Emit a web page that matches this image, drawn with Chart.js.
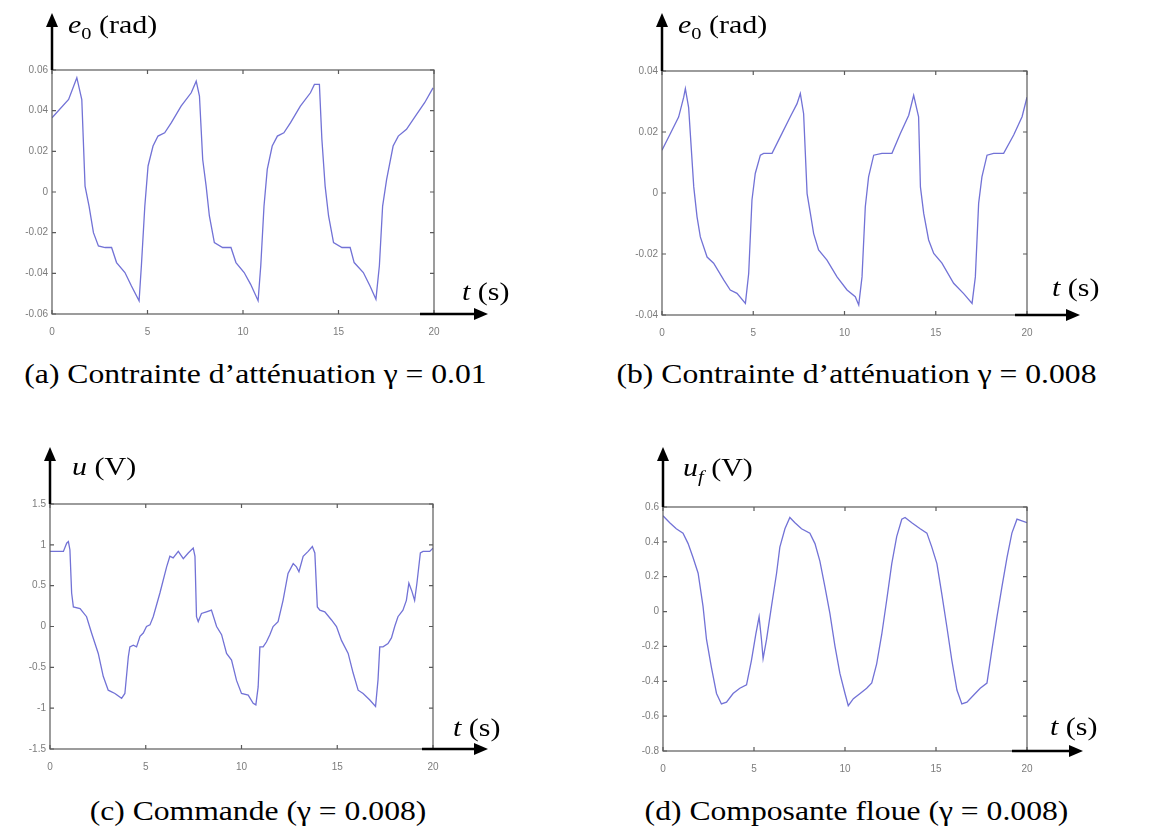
<!DOCTYPE html>
<html>
<head>
<meta charset="utf-8">
<script src="https://cdn.jsdelivr.net/npm/chart.js@4/dist/chart.umd.min.js"></script>
<style>
  body { margin: 0; background: #fff; }
  #page { position: relative; width: 1171px; height: 830px; overflow: hidden; }
  .panel { position: absolute; }
  .caption {
    position: absolute; text-align: center; white-space: nowrap;
    font-family: "Liberation Serif", "Times New Roman", serif;
    font-size: 28px; line-height: 28px; color: #000;
    transform: scaleX(1.13); transform-origin: center;
  }
</style>
</head>
<body>
<div id="page">
  <div class="panel" style="left:0;top:0;width:585px;height:345px"><canvas id="chartA"></canvas></div>
  <div class="panel" style="left:585px;top:0;width:586px;height:345px"><canvas id="chartB"></canvas></div>
  <div class="panel" style="left:0;top:420px;width:585px;height:360px"><canvas id="chartC"></canvas></div>
  <div class="panel" style="left:585px;top:420px;width:586px;height:360px"><canvas id="chartD"></canvas></div>

  <div class="caption" style="left:13px;width:485px;top:360px">(a) Contrainte d’atténuation γ = 0.01</div>
  <div class="caption" style="left:614px;width:485px;top:360px">(b) Contrainte d’atténuation γ = 0.008</div>
  <div class="caption" style="left:8px;width:500px;top:797px">(c) Commande (γ = 0.008)</div>
  <div class="caption" style="left:614px;width:485px;top:797px">(d) Composante floue (γ = 0.008)</div>
</div>
<script>
// temps commun (s)
const xTicks = [0, 5, 10, 15, 20];

// (a) e0, gamma = 0.01
const tA = [0,0.87,1.3,1.56,1.73,1.94,2.17,2.43,2.78,3.12,3.38,3.82,4.16,4.56,4.68,4.86,5.03,5.29,5.55,5.9,
  6.25,6.76,7.29,7.55,7.72,7.89,8.07,8.24,8.5,8.93,9.37,9.63,10.06,10.4,10.79,10.93,11.1,11.27,11.53,11.8,
  12.14,12.49,13.0,13.53,13.74,14.0,14.13,14.3,14.48,14.74,15.18,15.61,15.82,16.3,16.65,16.96,17.14,17.31,17.52,17.86,
  18.13,18.56,19.08,19.51,19.95];
const eA = [0.0365,0.0455,0.0562,0.0455,0.0029,-0.0069,-0.020,-0.0265,-0.0273,-0.0273,-0.0347,-0.0396,-0.0462,-0.0535,-0.0363,
  -0.0069,0.0128,0.0226,0.0275,0.0291,0.0341,0.0422,0.0488,0.0545,0.0472,0.016,0.0029,-0.0118,-0.0249,-0.0273,
  -0.0273,-0.0347,-0.0396,-0.0454,-0.0535,-0.0363,-0.0069,0.0111,0.0226,0.0275,0.0291,0.0341,0.0422,0.0488,0.0529,
  0.0529,0.0259,0.0029,-0.0118,-0.0249,-0.0273,-0.0273,-0.0347,-0.0396,-0.0462,-0.0527,-0.0363,-0.0069,0.0062,0.0226,
  0.0275,0.0308,0.0381,0.0439,0.0512];
const yTicksA = [-0.06, -0.04, -0.02, 0, 0.02, 0.04, 0.06];

// (b) e0, gamma = 0.008
const tB = [0,0.46,0.91,1.19,1.28,1.46,1.74,1.92,2.1,2.47,2.83,3.38,3.74,4.11,4.57,4.75,4.93,5.11,5.39,5.57,
  6.03,6.48,7.03,7.4,7.58,7.76,7.95,8.13,8.31,8.58,9.04,9.59,10.14,10.59,10.78,10.96,11.14,11.32,11.6,12.05,
  12.6,13.06,13.52,13.79,14.06,14.16,14.34,14.61,14.89,15.34,15.98,16.53,16.99,17.17,17.35,17.53,17.81,18.17,18.72,19.27,
  19.73,20];
const eB = [0.014,0.0195,0.0249,0.0314,0.0342,0.028,0.002,-0.0078,-0.0144,-0.021,-0.023,-0.0285,-0.0318,-0.0329,-0.0362,
  -0.0264,-0.0023,0.0064,0.0124,0.013,0.013,0.0184,0.025,0.0293,0.0326,0.026,-0.0002,-0.0067,-0.0133,-0.0187,
  -0.022,-0.0275,-0.0318,-0.034,-0.0367,-0.0275,-0.0045,0.0053,0.0124,0.013,0.013,0.0195,0.0255,0.032,0.025,
  0.002,-0.0067,-0.0154,-0.0198,-0.023,-0.0296,-0.033,-0.0362,-0.0275,-0.0034,0.0053,0.0124,0.013,0.013,0.019,
  0.025,0.0314];
const yTicksB = [-0.04, -0.02, 0, 0.02, 0.04];

// (c) commande u
const tC = [0,0.7,0.87,0.96,1.04,1.13,1.22,1.57,1.91,2.17,2.52,2.78,3.04,3.39,3.74,3.91,4.09,4.17,4.35,4.52,
  4.7,4.87,5.04,5.22,5.39,5.74,6.09,6.26,6.43,6.7,6.96,7.22,7.48,7.57,7.65,7.74,7.91,8.17,8.43,8.7,
  8.96,9.22,9.48,9.74,10.0,10.35,10.61,10.75,10.87,10.96,11.13,11.3,11.48,11.65,11.91,12.17,12.43,12.7,12.87,13.0,
  13.22,13.48,13.7,13.83,13.96,14.09,14.35,14.7,14.96,15.22,15.57,15.83,16.09,16.35,16.7,17.0,17.13,17.22,17.39,17.65,
  17.83,18.0,18.17,18.43,18.61,18.74,18.9,19.04,19.16,19.34,19.48,19.83,20];
const uC = [0.92,0.92,1.02,1.04,0.94,0.41,0.24,0.22,0.12,-0.08,-0.33,-0.61,-0.78,-0.82,-0.88,-0.82,-0.37,-0.25,-0.23,-0.25,
  -0.12,-0.08,0.0,0.02,0.12,0.41,0.73,0.86,0.84,0.92,0.83,0.9,0.96,0.86,0.12,0.06,0.16,0.18,0.2,0.0,
  -0.1,-0.33,-0.41,-0.66,-0.82,-0.84,-0.94,-0.96,-0.74,-0.25,-0.25,-0.19,-0.1,0.0,0.06,0.32,0.65,0.77,0.73,0.67,
  0.86,0.92,0.98,0.9,0.24,0.2,0.18,0.08,0.0,-0.17,-0.33,-0.57,-0.78,-0.82,-0.9,-0.98,-0.65,-0.25,-0.25,-0.21,
  -0.14,0.0,0.12,0.2,0.32,0.53,0.43,0.32,0.53,0.9,0.92,0.92,0.96];
const yTicksC = [-1.5, -1, -0.5, 0, 0.5, 1, 1.5];

// (d) composante floue uf
const tD = [0,0.37,0.73,1.1,1.38,1.65,1.93,2.2,2.39,2.66,2.94,3.21,3.49,3.85,4.22,4.59,4.86,5.1,5.28,5.41,
  5.5,5.69,5.96,6.24,6.42,6.7,6.97,7.25,7.61,8.07,8.35,8.62,8.9,9.17,9.45,9.72,10.0,10.18,10.46,10.83,
  11.19,11.47,11.74,12.02,12.29,12.57,12.84,13.12,13.3,13.67,14.13,14.5,14.77,15.05,15.32,15.6,15.87,16.15,16.42,16.7,
  17.06,17.43,17.8,18.07,18.35,18.62,18.9,19.17,19.45,19.72,20];
const uD = [0.55,0.51,0.475,0.45,0.39,0.31,0.22,0.03,-0.16,-0.32,-0.47,-0.53,-0.52,-0.47,-0.44,-0.42,-0.28,-0.13,-0.03,-0.16,
  -0.27,-0.16,0.03,0.22,0.37,0.475,0.54,0.51,0.475,0.45,0.39,0.29,0.14,-0.01,-0.2,-0.355,-0.47,-0.54,-0.5,-0.47,
  -0.44,-0.41,-0.3,-0.13,0.065,0.275,0.43,0.53,0.54,0.51,0.475,0.45,0.37,0.275,0.1,-0.09,-0.28,-0.45,-0.53,-0.52,
  -0.48,-0.44,-0.41,-0.22,-0.03,0.14,0.31,0.45,0.53,0.52,0.51];
const yTicksD = [-0.8, -0.6, -0.4, -0.2, 0, 0.2, 0.4, 0.6];

const SERIF = '"Liberation Serif", "Times New Roman", serif';
const STRETCH = 1.2; // le texte de la figure d'origine est un peu etire

// texte avec indice / italique
function drawRich(ctx, x, y, parts) {
  ctx.save();
  ctx.translate(x, y);
  ctx.scale(STRETCH, 1);
  let cx = 0;
  parts.forEach((p) => {
    ctx.font = p.font;
    ctx.fillText(p.t, cx, p.dy || 0);
    cx += ctx.measureText(p.t).width;
  });
  ctx.restore();
}

// cadre style matlab + fleches + libelles
function decor(d) {
  return {
    id: "decor",
    afterDatasetsDraw(chart) {
      const ctx = chart.ctx;
      const a = chart.chartArea;
      const sx = chart.scales.x, sy = chart.scales.y;
      ctx.save();
      ctx.strokeStyle = "#5a5a5a";
      ctx.lineWidth = 1.2;
      ctx.strokeRect(a.left, a.top, a.right - a.left, a.bottom - a.top);
      ctx.beginPath();
      sx.ticks.forEach((t) => {
        const px = sx.getPixelForValue(t.value);
        ctx.moveTo(px, a.bottom); ctx.lineTo(px, a.bottom - 4);
        ctx.moveTo(px, a.top); ctx.lineTo(px, a.top + 4);
      });
      sy.ticks.forEach((t) => {
        const py = sy.getPixelForValue(t.value);
        ctx.moveTo(a.left, py); ctx.lineTo(a.left + 4, py);
        ctx.moveTo(a.right, py); ctx.lineTo(a.right - 4, py);
      });
      ctx.stroke();

      // fleches
      ctx.strokeStyle = "#000";
      ctx.fillStyle = "#000";
      ctx.lineWidth = 2.5;
      const tipY = a.top - d.up;
      ctx.beginPath();
      ctx.moveTo(a.left, a.top);
      ctx.lineTo(a.left, tipY + 12);
      ctx.stroke();
      ctx.beginPath();
      ctx.moveTo(a.left, tipY);
      ctx.lineTo(a.left - 6, tipY + 14);
      ctx.lineTo(a.left + 6, tipY + 14);
      ctx.closePath();
      ctx.fill();

      const x0 = a.right - d.back, x1 = a.right + d.fwd;
      ctx.beginPath();
      ctx.moveTo(x0, a.bottom);
      ctx.lineTo(x1 - 12, a.bottom);
      ctx.stroke();
      ctx.beginPath();
      ctx.moveTo(x1, a.bottom);
      ctx.lineTo(x1 - 14, a.bottom - 6);
      ctx.lineTo(x1 - 14, a.bottom + 6);
      ctx.closePath();
      ctx.fill();

      // libelles des axes
      ctx.textBaseline = "alphabetic";
      ctx.textAlign = "left";
      drawRich(ctx, a.left + d.lx, a.top - d.ly, d.label);
      drawRich(ctx, a.right + d.tx, a.bottom - d.ty, [
        { t: "t", font: "italic 25px " + SERIF },
        { t: " (s)", font: "25px " + SERIF },
      ]);
      ctx.restore();
    },
  };
}

function makeChart(id, xs, ys, yTicks, g, d) {
  const ctx = document.getElementById(id).getContext("2d");
  return new Chart(ctx, {
    type: "line",
    data: {
      datasets: [
        {
          data: xs.map((x, i) => ({ x: x, y: ys[i] })),
          borderColor: "#7272d6",
          borderWidth: 1.3,
          pointRadius: 0,
          tension: 0,
          fill: false,
        },
      ],
    },
    options: {
      responsive: true,
      maintainAspectRatio: false,
      animation: false,
      events: [],
      layout: { autoPadding: false, padding: { left: 0, top: g.top, right: g.right, bottom: 0 } },
      plugins: { legend: { display: false }, tooltip: { enabled: false } },
      scales: {
        x: {
          type: "linear",
          min: 0,
          max: 20,
          afterBuildTicks: (s) => { s.ticks = xTicks.map((v) => ({ value: v })); },
          afterFit: (s) => { s.height = g.xh; },
          grid: { display: false, drawTicks: false },
          border: { display: false },
          ticks: {
            padding: 12,
            color: "#7c7c7c",
            font: { family: "Liberation Sans", size: 10 },
            maxRotation: 0,
          },
        },
        y: {
          type: "linear",
          min: yTicks[0],
          max: yTicks[yTicks.length - 1],
          afterBuildTicks: (s) => { s.ticks = yTicks.map((v) => ({ value: v })); },
          afterFit: (s) => { s.width = g.yw; },
          grid: { display: false, drawTicks: false },
          border: { display: false },
          ticks: {
            padding: 4,
            color: "#7c7c7c",
            font: { family: "Liberation Sans", size: 10 },
            callback: (v) => String(+Number(v).toFixed(3)),
          },
        },
      },
    },
    plugins: [decor(d)],
  });
}

const e0Label = [
  { t: "e", font: "italic 25px " + SERIF },
  { t: "0", font: "17px " + SERIF, dy: 6 },
  { t: " (rad)", font: "25px " + SERIF },
];

makeChart("chartA", tA, eA, yTicksA,
  { top: 70, right: 151, yw: 52, xh: 31 },
  { up: 57, back: 14, fwd: 54, lx: 16, ly: 37, tx: 28, ty: 14, label: e0Label });

makeChart("chartB", tB, eB, yTicksB,
  { top: 71, right: 144, yw: 77, xh: 30 },
  { up: 58, back: 12, fwd: 53, lx: 16, ly: 38, tx: 25, ty: 19, label: e0Label });

makeChart("chartC", tC, uC, yTicksC,
  { top: 84, right: 152, yw: 50, xh: 31 },
  { up: 57, back: 11, fwd: 55, lx: 22, ly: 29, tx: 20, ty: 13,
    label: [
      { t: "u", font: "italic 25px " + SERIF },
      { t: " (V)", font: "25px " + SERIF },
    ] });

makeChart("chartD", tD, uD, yTicksD,
  { top: 87, right: 144, yw: 78, xh: 29 },
  { up: 60, back: 15, fwd: 56, lx: 20, ly: 31, tx: 23, ty: 16,
    label: [
      { t: "u", font: "italic 25px " + SERIF },
      { t: "f", font: "italic 17px " + SERIF, dy: 6 },
      { t: " (V)", font: "25px " + SERIF },
    ] });
</script>
</body>
</html>
